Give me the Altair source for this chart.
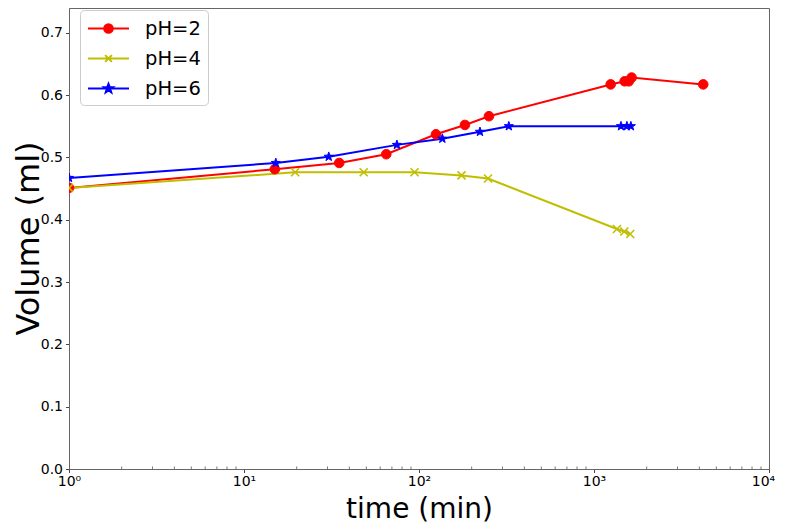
import math
import altair as alt
import pandas as pd

# ---------------- data ----------------
series_names = ["pH=2", "pH=4", "pH=6"]
series_colors = ["#ff0000", "#bfbf00", "#0000ff"]

t_ph2 = [1, 15, 35, 65, 125, 183, 251, 1245, 1496, 1580, 1640, 4210]
v_ph2 = [0.451, 0.481, 0.491, 0.505, 0.537, 0.552, 0.566, 0.617, 0.622, 0.622, 0.628, 0.617]

t_ph4 = [1, 19.6, 48.3, 94.3, 175, 248, 1352, 1490, 1611]
v_ph4 = [0.451, 0.476, 0.476, 0.476, 0.471, 0.466, 0.385, 0.381, 0.377]

t_ph6 = [1, 15.2, 30.5, 74.8, 136, 223, 326, 1426, 1542, 1624]
v_ph6 = [0.467, 0.491, 0.501, 0.520, 0.530, 0.541, 0.550, 0.550, 0.550, 0.550]

x_major_ticks = [1, 10, 100, 1000, 10000]
x_minor_ticks = [k * 10 ** d for d in range(4) for k in range(2, 10)]
y_ticks = [0.0, 0.1, 0.2, 0.3, 0.4, 0.5, 0.6, 0.7]

# ---------------- tables ----------------
rows = []
for name, ts, vs in zip(series_names, [t_ph2, t_ph4, t_ph6], [v_ph2, v_ph4, v_ph6]):
    for t, v in zip(ts, vs):
        rows.append({"series": name, "t": t, "v": v})
df = pd.DataFrame(rows)
minor_df = pd.DataFrame({"t": x_minor_ticks})

# ---------------- marker shapes ----------------
def star_path(r_out=1.0, r_in=0.40, cx=0.0, cy=0.0):
    pts = []
    for i in range(10):
        r = r_out if i % 2 == 0 else r_in
        a = math.radians(-90 + 36 * i)
        pts.append((cx + r * math.cos(a), cy + r * math.sin(a)))
    return "M" + "L".join(f"{x:.3f},{y:.3f}" for x, y in pts) + "Z"

STAR = star_path()
XMARK = "M-1,-1L1,1M-1,1L1,-1"

# legend glyphs: a line with the marker in the middle
LINE = "M-2,0L2,0"
leg_circle = LINE + "M-0.42,0A0.42,0.42 0 1,0 0.42,0A0.42,0.42 0 1,0 -0.42,0Z"
leg_x = LINE + "M-0.33,-0.33L0.33,0.33M-0.33,0.33L0.33,-0.33"
leg_star = LINE + star_path(0.46, 0.19)
legend_shapes = [leg_circle, leg_x, leg_star]

# ---------------- scales / axes ----------------
W, H = 700, 461
x_scale = alt.Scale(type="log", domain=[1, 10000], nice=False)
y_scale = alt.Scale(domain=[0, 0.7396], nice=False, zero=False)
color_scale = alt.Scale(domain=series_names, range=series_colors)

x_axis = alt.Axis(
    values=x_major_ticks,
    labelExpr="'10' + ['⁰','¹','²','³','⁴'][round(log(datum.value)/LN10)]",
    labelFontSize=14, labelPadding=2, tickSize=3.5, labelFlush=False,
    labelOverlap=False, grid=False,
    labelOffset={"condition": {"test": "datum.value >= 10000", "value": -6}, "value": 0},
    title="time (min)", titleFontSize=28, titleFontWeight="normal",
    titleX=W / 2, titleY=48, titleAlign="center", titleBaseline="alphabetic",
)
y_axis = alt.Axis(
    values=y_ticks, format=".1f",
    labelFontSize=14, labelPadding=3, tickSize=3.5, grid=False,
    title="Volume (ml)", titleFontSize=32, titleFontWeight="normal",
    titleX=-31, titleY=230, titleAngle=270, titleAlign="center",
    titleBaseline="alphabetic",
)

legend = alt.Legend(
    title=None, orient="none", legendX=11, legendY=2,
    padding=7, rowPadding=9, symbolOffset=10, labelOffset=25,
    labelFontSize=19.5, labelColor="#000000",
    symbolSize=420, symbolStrokeWidth=2,
    fillColor="rgba(255,255,255,0.8)", strokeColor="#cccccc", cornerRadius=4,
)

X = alt.X("t:Q", scale=x_scale, axis=x_axis)
Y = alt.Y("v:Q", scale=y_scale, axis=y_axis)

base = alt.Chart(df)

lines = base.mark_line(strokeWidth=2, clip=True).encode(
    x=X, y=Y, color=alt.Color("series:N", scale=color_scale, legend=legend)
)

marker_layers = []
marker_specs = [
    dict(shape="circle", filled=True, size=92, strokeWidth=1),
    dict(shape=XMARK, filled=False, size=64, strokeWidth=1.6),
    dict(shape=STAR, filled=True, size=92, strokeWidth=1),
]
for name, col, spec in zip(series_names, series_colors, marker_specs):
    marker_layers.append(
        base.transform_filter(alt.datum.series == name)
        .mark_point(opacity=1, clip=True, stroke=col, **spec)
        .encode(x=X, y=Y, color=alt.Color("series:N", scale=color_scale, legend=legend))
    )

legend_layer = base.transform_filter("false").mark_point(
    filled=True, size=420, opacity=1, strokeWidth=2
).encode(
    x=X, y=Y,
    color=alt.Color("series:N", scale=color_scale, legend=legend),
    stroke=alt.Stroke("series:N", scale=color_scale, legend=legend),
    shape=alt.Shape("series:N", scale=alt.Scale(domain=series_names, range=legend_shapes), legend=legend),
)

minor = alt.Chart(minor_df).mark_rule(color="#555555", strokeWidth=0.8).encode(
    x=alt.X("t:Q", scale=x_scale, axis=x_axis),
    y=alt.value(H - 2.5), y2=alt.value(H),
)

chart = alt.layer(minor, lines, *marker_layers, legend_layer).properties(
    width=W, height=H,
    autosize=alt.AutoSizeParams(type="none"),
    padding={"left": 61, "top": 0, "right": 10, "bottom": 55},
).configure(
    font="DejaVu Sans",
).configure_view(
    stroke="#666666", strokeWidth=1,
).configure_axis(
    domainColor="#666666", tickColor="#444444", labelColor="#000000",
    titleColor="#000000", labelFont="DejaVu Sans", titleFont="DejaVu Sans",
).configure_legend(
    labelFont="DejaVu Sans",
)

chart.save("out.html", embed_options={"renderer": "svg", "actions": False})
